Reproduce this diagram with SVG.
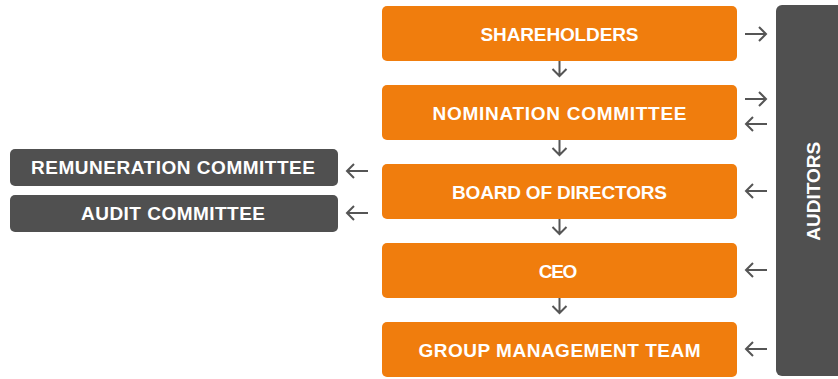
<svg xmlns="http://www.w3.org/2000/svg" width="838" height="379" viewBox="0 0 838 379">
  <defs>
    <style>
      .box { fill: #F07D0D; }
      .dark { fill: #505050; }
      .label { fill: #FFFFFF; font-family: "Liberation Sans", Arial, Helvetica, sans-serif; font-weight: 700; font-size: 19px; text-anchor: middle; }
      .arrow { fill: none; stroke: #555555; stroke-width: 2; stroke-linecap: butt; stroke-linejoin: miter; }
    </style>
  </defs>
  <rect width="838" height="379" fill="#FFFFFF"/>

  <!-- main chain -->
  <g id="shareholders">
    <rect class="box" x="382" y="6" width="355" height="55" rx="5"/>
    <text class="label" x="559.5" y="40.8" textLength="158">SHAREHOLDERS</text>
  </g>
  <g id="nomination-committee">
    <rect class="box" x="382" y="85" width="355" height="55" rx="5"/>
    <text class="label" x="559.5" y="119.8" textLength="254">NOMINATION COMMITTEE</text>
  </g>
  <g id="board-of-directors">
    <rect class="box" x="382" y="164" width="355" height="55" rx="5"/>
    <text class="label" x="559.5" y="198.5" textLength="215">BOARD OF DIRECTORS</text>
  </g>
  <g id="ceo">
    <rect class="box" x="382" y="243" width="355" height="55" rx="5"/>
    <text class="label" x="558" y="277.5" textLength="38.5">CEO</text>
  </g>
  <g id="group-management-team">
    <rect class="box" x="382" y="322" width="355" height="55" rx="5"/>
    <text class="label" x="559.5" y="356.5" textLength="282">GROUP MANAGEMENT TEAM</text>
  </g>

  <!-- committees -->
  <g id="remuneration-committee">
    <rect class="dark" x="10" y="149" width="328" height="37" rx="5"/>
    <text class="label" x="173" y="174.3" textLength="284">REMUNERATION COMMITTEE</text>
  </g>
  <g id="audit-committee">
    <rect class="dark" x="10" y="195" width="328" height="37" rx="5"/>
    <text class="label" x="173" y="220.3" textLength="184">AUDIT COMMITTEE</text>
  </g>

  <!-- auditors -->
  <g id="auditors">
    <rect class="dark" x="776" y="5" width="72" height="371" rx="6"/>
    <text class="label" transform="translate(819.5 191.2) rotate(-90)" x="0" y="0" textLength="99">AUDITORS</text>
  </g>

  <!-- connectors -->
  <g id="connectors">
    <!-- downward chain -->
    <path class="arrow" d="M559.5 61 V76 M552.5 69 L559.5 76 L566.5 69"/>
    <path class="arrow" d="M559.5 140 V155 M552.5 148 L559.5 155 L566.5 148"/>
    <path class="arrow" d="M559.5 219 V234 M552.5 227 L559.5 234 L566.5 227"/>
    <path class="arrow" d="M559.5 298 V313 M552.5 306 L559.5 313 L566.5 306"/>
    <!-- to auditors -->
    <path class="arrow" d="M745 34 H766 M759 27 L766 34 L759 41"/>
    <path class="arrow" d="M745 99 H766 M759 92 L766 99 L759 106"/>
    <!-- from auditors -->
    <path class="arrow" d="M767 124 H746 M753 117 L746 124 L753 131"/>
    <path class="arrow" d="M767 191 H746 M753 184 L746 191 L753 198"/>
    <path class="arrow" d="M767 270 H746 M753 263 L746 270 L753 277"/>
    <path class="arrow" d="M767 349 H746 M753 342 L746 349 L753 356"/>
    <!-- to committees -->
    <path class="arrow" d="M368 171 H347 M354 164 L347 171 L354 178"/>
    <path class="arrow" d="M368 213 H347 M354 206 L347 213 L354 220"/>
  </g>
</svg>
